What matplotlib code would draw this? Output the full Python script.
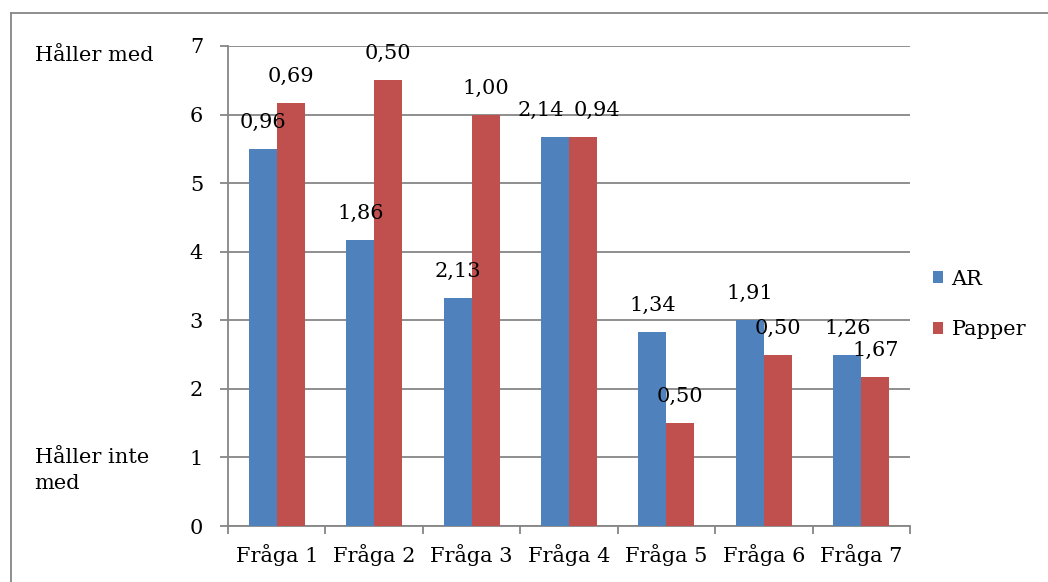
import numpy as np
import matplotlib.pyplot as plt
from matplotlib.lines import Line2D

# Medelvärden per fråga och standardavvikelser (visas som etiketter)
fragor = ['Fråga 1', 'Fråga 2', 'Fråga 3', 'Fråga 4', 'Fråga 5', 'Fråga 6', 'Fråga 7']
ar_medel = [5.50, 4.17, 3.33, 5.67, 2.83, 3.00, 2.50]
papper_medel = [6.17, 6.50, 6.00, 5.67, 1.50, 2.50, 2.17]
ar_sd = ['0,96', '1,86', '2,13', '2,14', '1,34', '1,91', '1,26']
papper_sd = ['0,69', '0,50', '1,00', '0,94', '0,50', '0,50', '1,67']

blue = '#4F81BD'
red = '#C0504D'
grid_col = '#868686'

plt.rcParams['font.family'] = ['DejaVu Serif']
fs = 15

fig = plt.figure(figsize=(10.48, 5.82), dpi=100)
ax = fig.add_axes([0.2176, 0.0962, 0.6507, 0.8248])

x = np.arange(len(fragor))
w = 0.287
b1 = ax.bar(x - w / 2, ar_medel, w, color=blue, label='AR', zorder=3)
b2 = ax.bar(x + w / 2, papper_medel, w, color=red, label='Papper', zorder=3)

# Etiketter ovanför staplarna; lika höga staplar får etiketterna isärflyttade
for i in range(len(fragor)):
    dx = 0
    if abs(ar_medel[i] - papper_medel[i]) < 0.3:
        dx = 10
    for rect, t, sign in ((b1[i], ar_sd[i], -1), (b2[i], papper_sd[i], 1)):
        ax.annotate(t, (rect.get_x() + rect.get_width() / 2, rect.get_height()),
                    xytext=(sign * dx, 19), textcoords='offset points',
                    ha='center', va='center', fontsize=fs, zorder=5)

ax.set_xlim(-0.5, len(fragor) - 0.5)
ax.set_ylim(0, 7)
ax.set_yticks(range(0, 8))
ax.yaxis.grid(True, color=grid_col, linewidth=1.3, zorder=0)
ax.set_axisbelow(True)

ax.set_xticks(x)
ax.set_xticklabels(fragor)
ax.set_xticks(np.arange(-0.5, len(fragor)), minor=True)
ax.tick_params(axis='x', which='major', length=0, pad=13, labelsize=fs)
ax.tick_params(axis='x', which='minor', length=6, width=1.3, color=grid_col)
ax.tick_params(axis='y', length=6, width=1.3, color=grid_col, pad=12, labelsize=fs)

for s in ('top', 'right'):
    ax.spines[s].set_visible(False)
for s in ('left', 'bottom'):
    ax.spines[s].set_color(grid_col)
    ax.spines[s].set_linewidth(1.3)

fig.text(0.033, 0.904, 'Håller med', fontsize=fs, va='center', ha='left')
fig.text(0.033, 0.191, 'Håller inte\nmed', fontsize=fs, va='center', ha='left',
         linespacing=1.45)

ax.legend(loc='center left', bbox_to_anchor=(0.880, 0.477),
          bbox_transform=fig.transFigure, frameon=False, fontsize=fs,
          handlelength=0.5, handleheight=0.5, handletextpad=0.4,
          labelspacing=1.5, borderpad=0)

# Ram runt diagrammet (övre och vänstra kanten)
fig.add_artist(Line2D([0.0105, 1.0], [0.978, 0.978], transform=fig.transFigure,
                      color=grid_col, linewidth=1.3))
fig.add_artist(Line2D([0.0105, 0.0105], [0.0, 0.978], transform=fig.transFigure,
                      color=grid_col, linewidth=1.3))

fig.savefig('out.png', dpi=100)
